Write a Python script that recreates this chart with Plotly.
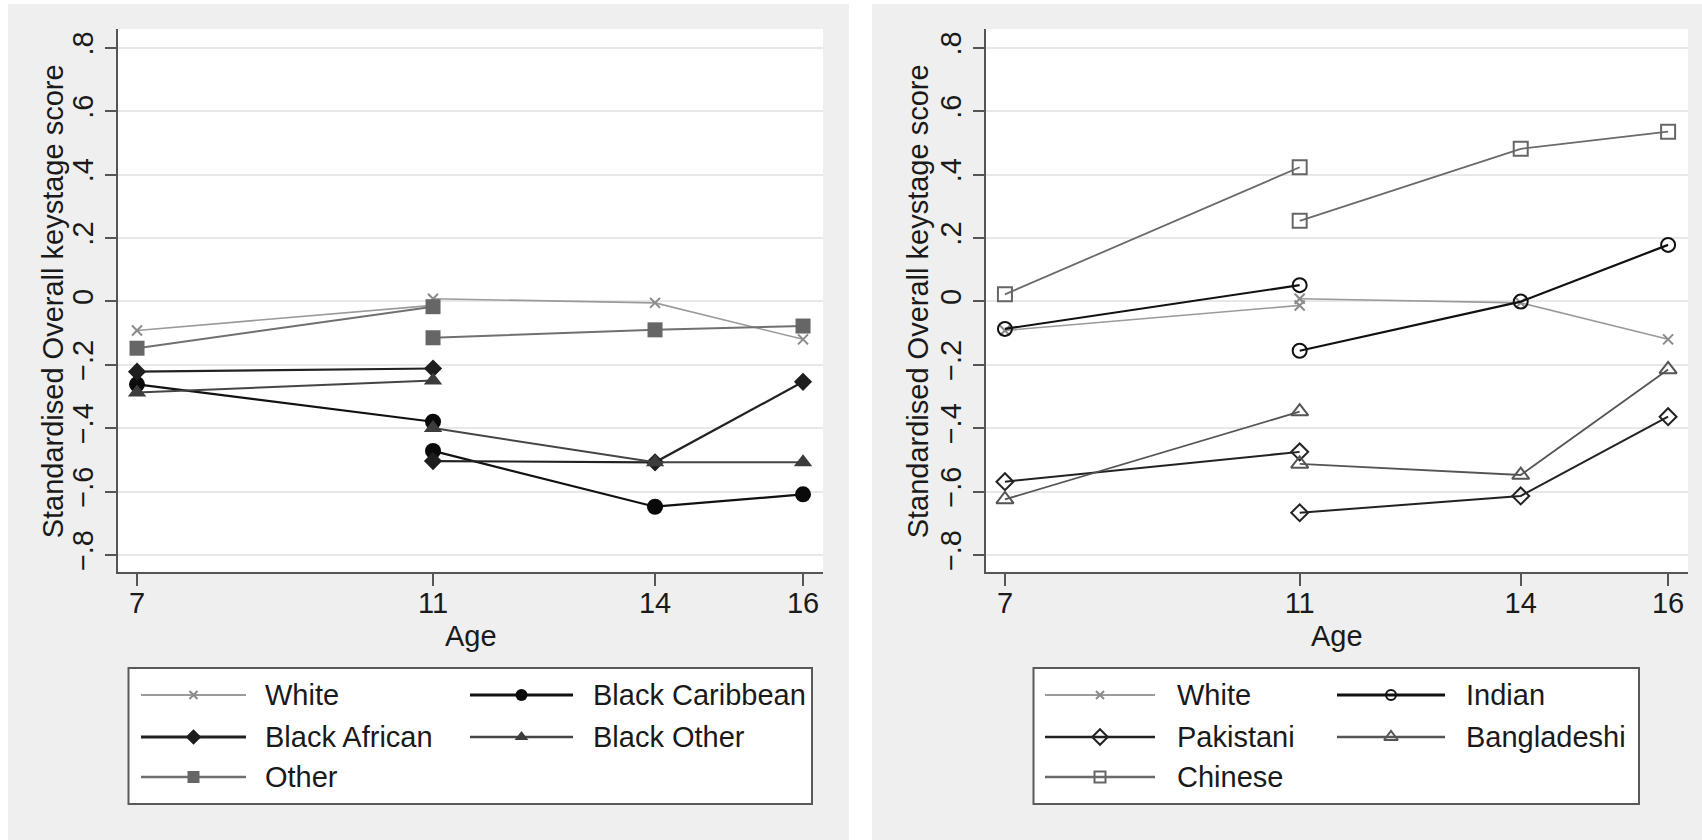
import plotly.graph_objects as go

W, H = 1702, 840

# ---------------- data ----------------
ages_early = [7, 11]
ages_late = [11, 14, 16]

# left panel (Black groups)
white_early = [-0.092, -0.013]
white_late = [0.008, -0.005, -0.120]
black_caribbean_early = [-0.262, -0.380]
black_caribbean_late = [-0.472, -0.648, -0.609]
black_african_early = [-0.222, -0.212]
black_african_late = [-0.504, -0.508, -0.254]
black_other_early = [-0.288, -0.250]
black_other_late = [-0.400, -0.508, -0.508]
other_early = [-0.148, -0.017]
other_late = [-0.115, -0.090, -0.078]

# right panel (Asian groups)
indian_early = [-0.087, 0.051]
indian_late = [-0.156, -0.001, 0.178]
pakistani_early = [-0.569, -0.475]
pakistani_late = [-0.667, -0.614, -0.364]
bangladeshi_early = [-0.625, -0.348]
bangladeshi_late = [-0.513, -0.548, -0.215]
chinese_early = [0.022, 0.423]
chinese_late = [0.254, 0.481, 0.535]

x_ticks = [7, 11, 14, 16]
y_ticks = [-0.8, -0.6, -0.4, -0.2, 0, 0.2, 0.4, 0.6, 0.8]
y_tick_labels = ["\u2212.8", "\u2212.6", "\u2212.4", "\u2212.2", "0", ".2", ".4", ".6", ".8"]

y_title = "Standardised Overall keystage score"
x_title = "Age"

FONT = "Liberation Sans, Arial, Helvetica, sans-serif"
FS = 29
TXT = "#1a1a1a"
AX = "#555555"
GRID = "#e8e8e8"
PANEL = "#efefef"

# series definitions: name, early, late, line color, line width, marker symbol, plot marker size, legend marker size, marker colour
left_series = [
    ("White", white_early, white_late, "#9a9a9a", 1.6, "x-thin", 10, 8, "#8a8a8a"),
    ("Black Caribbean", black_caribbean_early, black_caribbean_late, "#111111", 2.2, "circle", 16, 12, "#0a0a0a"),
    ("Black African", black_african_early, black_african_late, "#222222", 2.2, "diamond", 14, 12, "#1e1e1e"),
    ("Black Other", black_other_early, black_other_late, "#454545", 2.0, "triangle-up", 16, 12, "#3c3c3c"),
    ("Other", other_early, other_late, "#707070", 2.0, "square", 15, 12, "#666666"),
]
right_series = [
    ("White", white_early, white_late, "#9a9a9a", 1.6, "x-thin", 10, 8, "#8a8a8a"),
    ("Indian", indian_early, indian_late, "#111111", 2.2, "circle-open", 14, 10, "#111111"),
    ("Pakistani", pakistani_early, pakistani_late, "#222222", 2.0, "diamond-open", 13, 12, "#222222"),
    ("Bangladeshi", bangladeshi_early, bangladeshi_late, "#555555", 1.8, "triangle-up-open", 15, 12, "#555555"),
    ("Chinese", chinese_early, chinese_late, "#6a6a6a", 1.8, "square-open", 14, 11, "#666666"),
]


def px(x):
    return x / W


def py(y):
    return 1 - y / H


def marker_dict(sym, size, color):
    if sym == "x-thin" or sym.endswith("-open"):
        return dict(symbol=sym, size=size, color=color, line=dict(width=2, color=color))
    return dict(symbol=sym, size=size, color=color, line=dict(width=0))


fig = go.Figure()

for series, xa, ya in ((left_series, "x", "y"), (right_series, "x2", "y2")):
    for name, early, late, lc, lw, sym, msz, lmsz, mc in series:
        fig.add_trace(go.Scatter(
            x=ages_early + [None] + ages_late,
            y=early + [None] + late,
            mode="lines+markers", name=name, connectgaps=False,
            line=dict(color=lc, width=lw),
            marker=marker_dict(sym, msz, mc),
            xaxis=xa, yaxis=ya, showlegend=False, hoverinfo="skip",
        ))

# ---------------- layout geometry (pixels) ----------------
panels = [
    dict(bg=(8, 4, 849, 840), plot=(118, 29, 823, 571.7), legend=(128.5, 668, 812, 804),
         cols=[(141, 246, 263), (470, 573, 591)], ytitle_x=53, series=left_series),
    dict(bg=(872, 4, 1702, 840), plot=(986, 29, 1688, 571.7), legend=(1033.5, 668, 1639, 804),
         cols=[(1045, 1155, 1175), (1337, 1445, 1464)], ytitle_x=918, series=right_series),
]
rows = [695, 737, 777]

shapes = []
annotations = []
for p in panels:
    x0, y0, x1, y1 = p["bg"]
    shapes.append(dict(type="rect", xref="paper", yref="paper", x0=px(x0), x1=px(x1), y0=py(y1), y1=py(y0),
                       fillcolor=PANEL, line=dict(width=0), layer="below"))
for p in panels:
    x0, y0, x1, y1 = p["plot"]
    shapes.append(dict(type="rect", xref="paper", yref="paper", x0=px(x0), x1=px(x1), y0=py(y1), y1=py(y0),
                       fillcolor="white", line=dict(width=0), layer="below"))
    lx0, ly0, lx1, ly1 = p["legend"]
    shapes.append(dict(type="rect", xref="paper", yref="paper", x0=px(lx0), x1=px(lx1), y0=py(ly1), y1=py(ly0),
                       fillcolor="white", line=dict(width=2, color="#5a5a5a"), layer="below"))
    cy = (y0 + y1) / 2
    cx = (x0 + x1) / 2
    annotations.append(dict(text=y_title, x=px(p["ytitle_x"]), y=py(cy + 1), xref="paper", yref="paper",
                            textangle=-90, showarrow=False, xanchor="center", yanchor="middle",
                            font=dict(family=FONT, size=FS, color=TXT)))
    annotations.append(dict(text=x_title, x=px(cx), y=py(636), xref="paper", yref="paper",
                            showarrow=False, xanchor="center", yanchor="middle",
                            font=dict(family=FONT, size=FS, color=TXT)))
    # legend entries
    for i, (name, early, late, lc, lw, sym, msz, lmsz, mc) in enumerate(p["series"]):
        col = p["cols"][i % 2]
        row = rows[i // 2]
        lxa, lxb, tx = col
        fig.add_trace(go.Scatter(x=[lxa, lxb], y=[row, row], mode="lines",
                                 line=dict(color=lc, width=lw + 0.6), xaxis="x3", yaxis="y3",
                                 showlegend=False, hoverinfo="skip"))
        fig.add_trace(go.Scatter(x=[(lxa + lxb) / 2], y=[row], mode="markers",
                                 marker=marker_dict(sym, lmsz, mc), xaxis="x3", yaxis="y3",
                                 showlegend=False, hoverinfo="skip"))
        annotations.append(dict(text=name, x=px(tx), y=py(row), xref="paper", yref="paper",
                                showarrow=False, xanchor="left", yanchor="middle",
                                font=dict(family=FONT, size=FS, color=TXT)))


def xaxis_cfg(p):
    x0, y0, x1, y1 = p["plot"]
    return dict(domain=[px(x0), px(x1)], range=[6.743, 16.27], tickmode="array", tickvals=x_ticks,
                ticktext=[str(t) for t in x_ticks], ticks="outside", ticklen=12, tickwidth=1.5, tickcolor=AX,
                ticklabelstandoff=-8,
                showline=True, linecolor=AX, linewidth=2, showgrid=False, zeroline=False,
                tickfont=dict(family=FONT, size=FS, color=TXT), fixedrange=True)


def yaxis_cfg(p):
    x0, y0, x1, y1 = p["plot"]
    return dict(domain=[py(y1), py(y0)], range=[-0.853, 0.859], tickmode="array", tickvals=y_ticks,
                ticktext=y_tick_labels, tickangle=-90, ticks="outside", ticklen=11, tickwidth=1.5, tickcolor=AX,
                showline=True, linecolor=AX, linewidth=2, showgrid=True, gridcolor=GRID, gridwidth=2,
                zeroline=False, tickfont=dict(family=FONT, size=FS, color=TXT), fixedrange=True)


fig.update_layout(
    width=W, height=H, margin=dict(l=0, r=0, t=0, b=0),
    paper_bgcolor="white", plot_bgcolor="rgba(0,0,0,0)", showlegend=False,
    font=dict(family=FONT, size=FS, color=TXT),
    xaxis=dict(**xaxis_cfg(panels[0]), anchor="y"),
    yaxis=dict(**yaxis_cfg(panels[0]), anchor="x"),
    xaxis2=dict(**xaxis_cfg(panels[1]), anchor="y2"),
    yaxis2=dict(**yaxis_cfg(panels[1]), anchor="x2"),
    xaxis3=dict(domain=[0, 1], range=[0, W], visible=False, fixedrange=True, anchor="y3"),
    yaxis3=dict(domain=[0, 1], range=[H, 0], visible=False, fixedrange=True, anchor="x3"),
    shapes=shapes, annotations=annotations,
)

fig.write_html("out.html")
